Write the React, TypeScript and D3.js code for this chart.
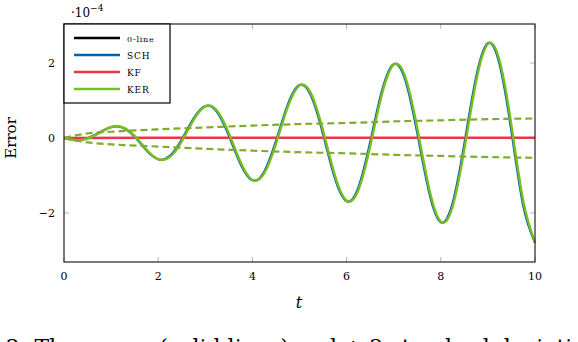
import React from 'react';
import * as d3 from 'd3';

// time grid (t), values in units of 1e-4
const tValues = [0, 0.25, 0.5, 0.75, 1, 1.25, 1.5, 1.75, 2, 2.25, 2.5, 2.75, 3, 3.25, 3.5, 3.75, 4, 4.25, 4.5, 4.75, 5,
  5.25, 5.5, 5.75, 6, 6.25, 6.5, 6.75, 7, 7.25, 7.5, 7.75, 8, 8.25, 8.5, 8.75, 9, 9.25, 9.5, 9.75, 10];

const schValues = [0, -0.06, -0.01, 0.145, 0.29, 0.27, 0.03, -0.33, -0.57, -0.48, -0.045, 0.515, 0.85, 0.69, 0.06, -0.7,
  -1.13, -0.9, -0.08, 0.885, 1.41, 1.11, 0.1, -1.07, -1.69, -1.32, -0.115, 1.255, 1.97, 1.53, 0.13, -1.44, -2.25, -1.74,
  -0.15, 1.625, 2.53, 1.95, 0.17, -1.81, -2.8];

const kerValues = [0, -0.063, -0.019, 0.135, 0.288, 0.284, 0.054, -0.307, -0.565, -0.506, -0.089, 0.478, 0.843, 0.727,
  0.124, -0.65, -1.121, -0.948, -0.159, 0.821, 1.399, 1.169, 0.194, -0.993, -1.676, -1.39, -0.229, 1.165, 1.954, 1.612,
  0.264, -1.336, -2.232, -1.833, -0.299, 1.508, 2.51, 2.054, 0.334, -1.68, -2.788];

const kfT = [0, 2, 4, 6, 8, 10];
const kfValues = [0, 0.004, 0.005, 0.006, 0.006, 0.005];

const bandT = [0, 0.5, 1, 2, 3, 4, 5, 6, 7, 8, 9, 10];
const bandUpper = [0, 0.12, 0.165, 0.23, 0.28, 0.33, 0.37, 0.4, 0.44, 0.47, 0.5, 0.52];
const bandLower = [0, -0.12, -0.17, -0.23, -0.29, -0.34, -0.38, -0.41, -0.45, -0.48, -0.51, -0.53];

const xTicks = [0, 2, 4, 6, 8, 10];
const yTicks = [-2, 0, 2];

const legendItems = [
  { label: '0-line', color: '#000000', size: 8 },
  { label: 'SCH', color: '#0063b1', size: 9 },
  { label: 'KF', color: '#e8364a', size: 9 },
  { label: 'KER', color: '#78be20', size: 9 },
];

const W = 578;
const H = 342;
const serif = "'DejaVu Serif', serif";

export default function App() {
  const x = d3.scaleLinear().domain([0, 10]).range([64, 535]);
  const y = d3.scaleLinear().domain([-3.31, 3.04]).range([262, 24]);

  const smooth = d3.line<[number, number]>()
    .x(d => x(d[0]))
    .y(d => y(d[1]))
    .curve(d3.curveNatural);
  const straight = d3.line<[number, number]>()
    .x(d => x(d[0]))
    .y(d => y(d[1]))
    .curve(d3.curveMonotoneX);

  const zip = (ts: number[], vs: number[]) => ts.map((t, i) => [t, vs[i]] as [number, number]);

  const [x0, x1] = x.range();
  const [yb, yt] = y.range();
  const tick = 5;
  const tickColor = '#b5b5b5';

  return (
    <svg width={W} height={H} style={{ position: 'absolute', left: 0, top: 0, background: '#fff', fontFamily: serif }}>
      {/* ticks, inward on all four sides */}
      {xTicks.map(t => (
        <g key={'xt' + t}>
          <line x1={x(t)} x2={x(t)} y1={yb} y2={yb - tick} stroke={tickColor} strokeWidth={1} />
          <line x1={x(t)} x2={x(t)} y1={yt} y2={yt + tick} stroke={tickColor} strokeWidth={1} />
          <text x={x(t)} y={yb + 18} textAnchor="middle" style={{ fontFamily: serif, fontSize: 11 }}>{t}</text>
        </g>
      ))}
      {yTicks.map(v => (
        <g key={'yt' + v}>
          <line x1={x0} x2={x0 + tick} y1={y(v)} y2={y(v)} stroke={tickColor} strokeWidth={1} />
          <line x1={x1} x2={x1 - tick} y1={y(v)} y2={y(v)} stroke={tickColor} strokeWidth={1} />
          <text x={x0 - 9} y={y(v) + 4} textAnchor="end" style={{ fontFamily: serif, fontSize: 11 }}>
            {v < 0 ? '\u2212' + Math.abs(v) : v}
          </text>
        </g>
      ))}

      {/* series */}
      <path d={straight(zip([0, 10], [0, 0])) || ''} fill="none" stroke="#000" strokeWidth={2} />
      <path d={smooth(zip(tValues, schValues)) || ''} fill="none" stroke="#0063b1" strokeWidth={2.2} />
      <path d={straight(zip(kfT, kfValues)) || ''} fill="none" stroke="#e8364a" strokeWidth={2.6} />
      <path d={smooth(zip(tValues, kerValues)) || ''} fill="none" stroke="#78be20" strokeWidth={2.4} />
      <path d={straight(zip(bandT, bandUpper)) || ''} fill="none" stroke="#7fac2c" strokeWidth={2.2} strokeDasharray="7,4" />
      <path d={straight(zip(bandT, bandLower)) || ''} fill="none" stroke="#7fac2c" strokeWidth={2.2} strokeDasharray="7,4" />

      {/* frame */}
      <rect x={x0} y={yt} width={x1 - x0} height={yb - yt} fill="none" stroke="#222" strokeWidth={1.2} />

      {/* legend */}
      <rect x={64} y={24} width={106} height={79} fill="#fff" stroke="#000" strokeWidth={1.2} />
      {legendItems.map((d, i) => (
        <g key={d.label}>
          <line x1={74} x2={120} y1={38 + i * 17} y2={38 + i * 17} stroke={d.color} strokeWidth={2.6} />
          <text x={127} y={38 + i * 17 + 3.5} style={{ fontFamily: serif, fontSize: d.size, letterSpacing: 0.8 }}>{d.label}</text>
        </g>
      ))}

      {/* exponent */}
      <text x={71} y={17} style={{ fontFamily: serif, fontSize: 12 }}>
        {'\u00b710'}
        <tspan dy={-6} style={{ fontSize: 9 }}>{'\u22124'}</tspan>
      </text>

      {/* axis labels */}
      <text x={299} y={308} textAnchor="middle" style={{ fontFamily: serif, fontStyle: 'italic', fontSize: 16 }}>t</text>
      <text transform={`translate(16, ${y(0)}) rotate(-90)`} textAnchor="middle" style={{ fontFamily: serif, fontSize: 15 }}>Error</text>

      {/* caption, cut off by the page edge as in the source figure */}
      <text x={6} y={355} style={{ fontFamily: serif, fontSize: 22 }}>2: The errors (solid lines) and ± 2 standard deviation</text>
    </svg>
  );
}
